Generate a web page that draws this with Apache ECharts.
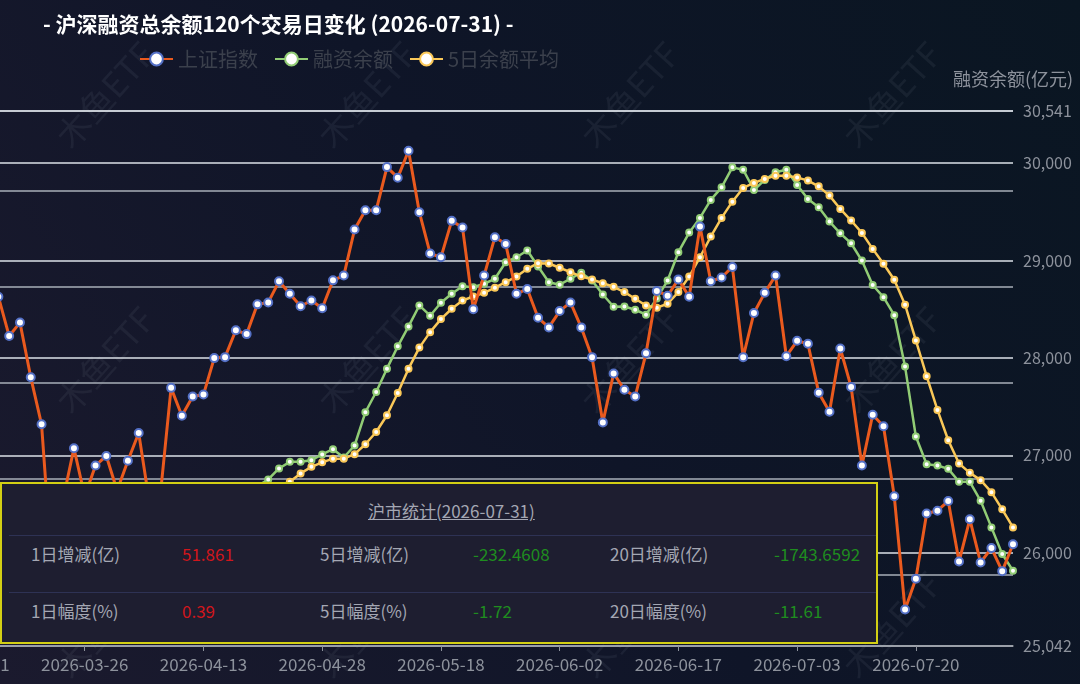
<!DOCTYPE html>
<html>
<head>
<meta charset="utf-8">
<title>沪深融资总余额</title>
<script src="https://cdn.jsdelivr.net/npm/echarts@6/dist/echarts.min.js"></script>
<style>
  html, body { margin: 0; padding: 0; background: #0f1424; }
  #wrap { position: relative; width: 1080px; height: 684px; overflow: hidden; }
  #chart { position: absolute; left: 0; top: 0; width: 1080px; height: 684px; }
  #stat { position: absolute; left: 0; top: 482px; width: 878px; height: 162px; box-sizing: border-box;
          border: 2px solid #d3cf14; background: #1e1e30; font-family: 'Noto Sans CJK SC', sans-serif; }
  #stat .t { position: absolute; top: 14px; left: 366px; font-size: 17px; color: #a4a7b3; text-decoration: underline; }
  #stat .sep { position: absolute; left: 7px; right: 0; height: 1px; background: #2e3254; }
  #stat .c { position: absolute; font-size: 17px; line-height: 20px; white-space: nowrap; }
</style>
</head>
<body>
<div id="wrap">
  <div id="chart"></div>
  <div id="stat"></div>
</div>
<script>
// 交易日
var dates = [
  '2026-03-11','2026-03-12','2026-03-13','2026-03-16','2026-03-17','2026-03-18','2026-03-19','2026-03-20','2026-03-23','2026-03-24','2026-03-25',
  '2026-03-26','2026-03-27','2026-03-30','2026-03-31','2026-04-01','2026-04-02','2026-04-03','2026-04-07','2026-04-08','2026-04-09','2026-04-10',
  '2026-04-13','2026-04-14','2026-04-15','2026-04-16','2026-04-17','2026-04-20','2026-04-21','2026-04-22','2026-04-23','2026-04-24','2026-04-27',
  '2026-04-28','2026-04-29','2026-04-30','2026-05-06','2026-05-07','2026-05-08','2026-05-11','2026-05-12','2026-05-13','2026-05-14','2026-05-15',
  '2026-05-18','2026-05-19','2026-05-20','2026-05-21','2026-05-22','2026-05-25','2026-05-26','2026-05-27','2026-05-28','2026-05-29','2026-06-01',
  '2026-06-02','2026-06-03','2026-06-04','2026-06-05','2026-06-08','2026-06-09','2026-06-10','2026-06-11','2026-06-12','2026-06-15','2026-06-16',
  '2026-06-17','2026-06-18','2026-06-22','2026-06-23','2026-06-24','2026-06-25','2026-06-26','2026-06-29','2026-06-30','2026-07-01','2026-07-02',
  '2026-07-03','2026-07-06','2026-07-07','2026-07-08','2026-07-09','2026-07-10','2026-07-13','2026-07-14','2026-07-15','2026-07-16','2026-07-17',
  '2026-07-20','2026-07-21','2026-07-22','2026-07-23','2026-07-24','2026-07-27','2026-07-28','2026-07-29','2026-07-30','2026-07-31'
];

// 上证指数
var shIndex = [
  3566, 3581, 3597, 3590, 3549, 3563, 3506, 3457, 3300, 3379, 3432,
  3382, 3414, 3424, 3388, 3419, 3448, 3375, 3383, 3495, 3466, 3486,
  3488, 3526, 3527, 3555, 3551, 3582, 3584, 3606, 3593, 3580, 3586,
  3578, 3607, 3612, 3660, 3680, 3680, 3725, 3714, 3742, 3678, 3635,
  3631, 3669, 3662, 3577, 3612, 3652, 3645, 3593, 3598, 3568, 3558,
  3575, 3584, 3558, 3527, 3459, 3510, 3493, 3486, 3531, 3596, 3591,
  3608, 3590, 3663, 3606, 3610, 3621, 3527, 3573, 3594, 3612, 3528,
  3544, 3541, 3490, 3470, 3536, 3496, 3414, 3467, 3455, 3382, 3264,
  3296, 3364, 3367, 3377, 3314, 3358, 3313, 3328, 3304, 3332
];

// 融资余额(亿元)
var marginBalance = [
  25925, 25874, 25823, 25802, 25771, 25792, 25823, 25843, 25874, 25905, 25925,
  25966, 26007, 26048, 26079, 26130, 26171, 26212, 26253, 26294, 26335, 26386,
  26438, 26489, 26540, 26591, 26643, 26684, 26752, 26865, 26933, 26933, 26950,
  27009, 27063, 26978, 27101, 27442, 27650, 27890, 28119, 28324, 28539, 28434,
  28567, 28659, 28737, 28727, 28762, 28813, 28983, 29034, 29103, 28939, 28778,
  28752, 28813, 28875, 28795, 28652, 28526, 28529, 28495, 28444, 28611, 28795,
  29086, 29287, 29438, 29623, 29752, 29957, 29933, 29725, 29828, 29906, 29933,
  29776, 29633, 29547, 29400, 29280, 29178, 29000, 28749, 28624, 28439, 27911,
  27193, 26909, 26896, 26861, 26728, 26728, 26533, 26260, 25987, 25815
];

// 5日余额平均
var avg5 = [
  25771, 25741, 25720, 25700, 25689, 25700, 25720, 25741, 25761, 25782, 25802,
  25833, 25864, 25905, 25946, 25987, 26028, 26069, 26110, 26151, 26192, 26243,
  26294, 26345, 26397, 26448, 26509, 26571, 26632, 26684, 26728, 26814, 26882,
  26928, 26966, 26966, 27012, 27114, 27240, 27412, 27640, 27890, 28106, 28265,
  28399, 28505, 28590, 28631, 28669, 28721, 28778, 28836, 28915, 28973, 28970,
  28926, 28881, 28838, 28806, 28767, 28731, 28676, 28608, 28539, 28516, 28557,
  28676, 28836, 29034, 29246, 29438, 29605, 29746, 29797, 29838, 29872, 29872,
  29854, 29821, 29762, 29667, 29530, 29411, 29284, 29120, 28967, 28803, 28547,
  28180, 27813, 27466, 27155, 26916, 26820, 26745, 26622, 26445, 26260
];

// 沪市统计
var statTitle = '沪市统计(2026-07-31)';
var statLabels = [['1日增减(亿)', '5日增减(亿)', '20日增减(亿)'], ['1日幅度(%)', '5日幅度(%)', '20日幅度(%)']];
var statValues = [['51.861', '-232.4608', '-1743.6592'], ['0.39', '-1.72', '-11.61']];

var FONT = "'Noto Sans CJK SC', 'Noto Sans', sans-serif";

// 统计表
(function () {
  var box = document.getElementById('stat');
  var html = '<div class="t">' + statTitle + '</div>';
  html += '<div class="sep" style="top:51px"></div><div class="sep" style="top:108px"></div>';
  var colX = [[29, 180], [318, 471], [608, 772]];
  var rowY = [70, 127];
  for (var r = 0; r < 2; r++) {
    for (var c = 0; c < 3; c++) {
      var v = statValues[r][c];
      var col = v.charAt(0) === '-' ? '#1f8d1f' : '#d1161c';
      html += '<div class="c" style="left:' + colX[c][0] + 'px;top:' + (rowY[r] - 10) + 'px;color:#a4a7b3">' + statLabels[r][c] + '</div>';
      html += '<div class="c" style="left:' + colX[c][1] + 'px;top:' + (rowY[r] - 10) + 'px;color:' + col + '">' + v + '</div>';
    }
  }
  box.innerHTML = html;
})();

// 水印
var marks = [];
[105, 367, 630, 892].forEach(function (x) {
  [95, 360, 625].forEach(function (y) {
    marks.push({
      type: 'text', x: x, y: y, rotation: 48 * Math.PI / 180, z: 0, silent: true,
      style: { text: '木鱼ETF', fontSize: 34, fontFamily: FONT, fill: 'rgba(190,195,210,0.07)', align: 'center', verticalAlign: 'middle' }
    });
  });
});

var myChart = echarts.init(document.getElementById('chart'));
myChart.setOption({
  animation: false,
  backgroundColor: {
    type: 'linear', x: 0, y: 1, x2: 1, y2: 0,
    colorStops: [{ offset: 0, color: '#1b1a2e' }, { offset: 0.5, color: '#0f1528' }, { offset: 1, color: '#0a1622' }]
  },
  graphic: marks,
  title: {
    text: '- 沪深融资总余额120个交易日变化 (2026-07-31) -',
    left: 38, top: 9,
    textStyle: { color: '#ffffff', fontSize: 21, fontWeight: 'bold', fontFamily: FONT }
  },
  legend: {
    left: 134, top: 44,
    itemWidth: 33, itemHeight: 16, itemGap: 16,
    textStyle: { color: '#3b404c', fontSize: 20, fontFamily: FONT },
    data: ['上证指数', '融资余额', '5日余额平均']
  },
  grid: { left: -34, right: 67, top: 110.5, bottom: 38, outerBoundsMode: 'none' },
  xAxis: {
    type: 'category',
    boundaryGap: false,
    data: dates,
    axisLine: { lineStyle: { color: '#8d929c', width: 1.5 } },
    axisTick: { interval: 10, lineStyle: { color: '#8d929c' } },
    axisLabel: { interval: 10, color: '#8d929c', fontSize: 17, margin: 10, fontFamily: FONT }
  },
  yAxis: [
    {
      type: 'value', position: 'left', min: 3226, max: 3784,
      axisLine: { show: false }, axisTick: { show: false }, axisLabel: { show: false },
      splitLine: { lineStyle: { color: '#a8afb9', width: 1.5 } }
    },
    {
      type: 'value', position: 'right', min: 25042, max: 30541,
      name: '融资余额(亿元)', nameGap: 22,
      nameTextStyle: { color: '#8d929c', fontSize: 18, fontFamily: FONT },
      axisLine: { show: false }, axisTick: { show: false },
      axisLabel: { color: '#8d929c', fontSize: 16, margin: 10, fontFamily: FONT },
      splitLine: { lineStyle: { color: '#dde2e9', width: 1.5 } }
    }
  ],
  series: [
    {
      name: '上证指数', type: 'line', yAxisIndex: 0, data: shIndex, z: 4,
      symbol: 'emptyCircle', symbolSize: 8, showAllSymbol: true,
      itemStyle: { color: '#5470c6', borderWidth: 2.5 },
      lineStyle: { color: '#ea5a1e', width: 3 }
    },
    {
      name: '融资余额', type: 'line', yAxisIndex: 1, data: marginBalance, z: 3,
      symbol: 'emptyCircle', symbolSize: 6, showAllSymbol: true,
      itemStyle: { color: '#91cc75', borderWidth: 2 },
      lineStyle: { color: '#91cc75', width: 2.5 }
    },
    {
      name: '5日余额平均', type: 'line', yAxisIndex: 1, data: avg5, z: 3,
      symbol: 'emptyCircle', symbolSize: 6, showAllSymbol: true,
      itemStyle: { color: '#fac858', borderWidth: 2 },
      lineStyle: { color: '#fac858', width: 2.5 }
    }
  ]
});
</script>
</body>
</html>
